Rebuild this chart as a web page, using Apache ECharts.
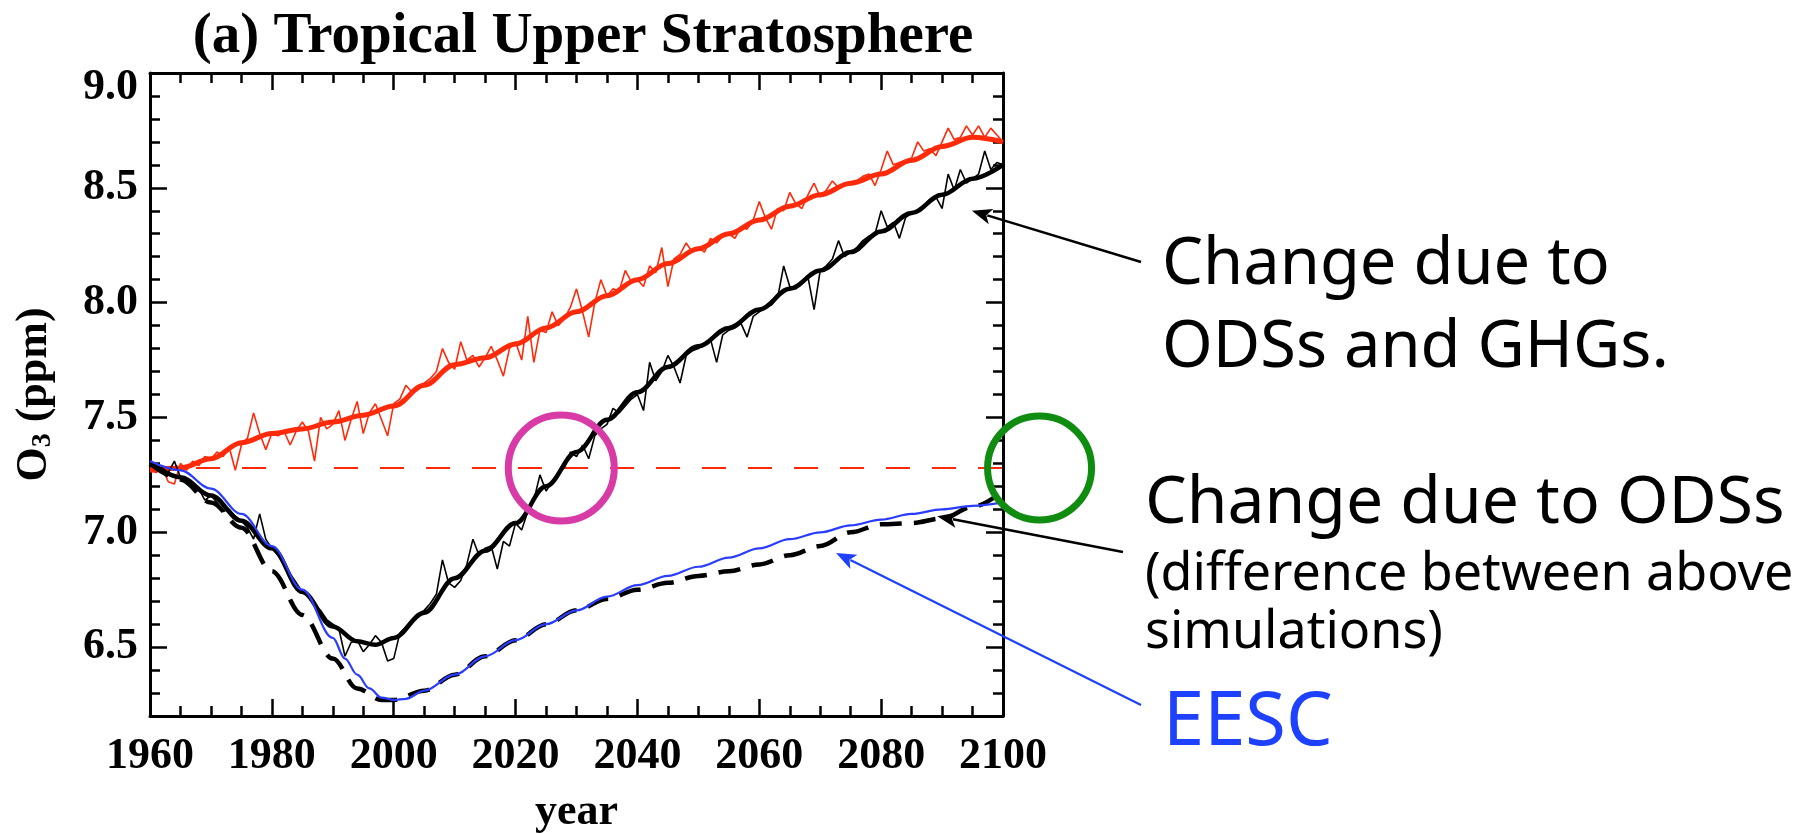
<!DOCTYPE html>
<html>
<head>
<meta charset="utf-8">
<script src="https://cdn.jsdelivr.net/npm/echarts@6/dist/echarts.min.js"></script>
<style>
  html, body { margin: 0; padding: 0; background: #ffffff; }
  #chart { width: 1817px; height: 833px; }
</style>
</head>
<body>
<div id="chart"></div>
<script>
// ---- data -------------------------------------------------------------
// Annual model output, 1960..2100 (one value per year)
const annualYears = [];
for (let y = 1960; y <= 2100; y++) annualYears.push(y);

// Ozone with fixed ODSs (red, thin annual curve)
const redAnnual = [
  7.27, 7.26, 7.28, 7.22, 7.21, 7.30, 7.27, 7.31, 7.29, 7.33,
  7.32, 7.35, 7.33, 7.37, 7.27, 7.38, 7.41, 7.52, 7.43, 7.36,
  7.43, 7.42, 7.44, 7.38, 7.44, 7.48, 7.44, 7.31, 7.50, 7.45,
  7.47, 7.53, 7.40, 7.49, 7.57, 7.43, 7.52, 7.56, 7.49, 7.42,
  7.56, 7.58, 7.64, 7.61, 7.63, 7.65, 7.67, 7.70, 7.80, 7.74,
  7.71, 7.83, 7.75, 7.77, 7.72, 7.76, 7.81, 7.75, 7.68, 7.80,
  7.83, 7.75, 7.94, 7.74, 7.88, 7.87, 7.96, 7.90, 7.93, 7.98,
  8.06, 7.96, 7.85, 8.00, 8.10, 8.03, 8.06, 8.05, 8.14, 8.09,
  8.10, 8.07, 8.16, 8.13, 8.24, 8.07, 8.19, 8.21, 8.26, 8.22,
  8.24, 8.22, 8.28, 8.26, 8.29, 8.30, 8.28, 8.33, 8.32, 8.36,
  8.44, 8.37, 8.32, 8.41, 8.40, 8.48, 8.43, 8.41, 8.47, 8.52,
  8.46, 8.49, 8.53, 8.50, 8.51, 8.52, 8.53, 8.55, 8.56, 8.51,
  8.58, 8.66, 8.60, 8.61, 8.62, 8.63, 8.70, 8.66, 8.67, 8.64,
  8.70, 8.76, 8.71, 8.72, 8.77, 8.73, 8.77, 8.72, 8.76, 8.73,
  8.70
];

// Ozone with changing ODSs and GHGs (black, thin annual curve)
const blackAnnual = [
  7.30, 7.29, 7.28, 7.26, 7.31, 7.24, 7.22, 7.21, 7.19, 7.14,
  7.16, 7.13, 7.09, 7.10, 7.07, 7.05, 7.02, 6.97, 7.08, 6.97,
  6.93, 6.90, 6.86, 6.82, 6.78, 6.74, 6.72, 6.68, 6.66, 6.62,
  6.60, 6.58, 6.46, 6.52, 6.53, 6.48, 6.51, 6.55, 6.52, 6.44,
  6.45, 6.56, 6.59, 6.62, 6.64, 6.66, 6.69, 6.73, 6.88, 6.78,
  6.76, 6.79, 6.86, 6.97, 6.90, 6.93, 6.94, 6.84, 6.96, 6.94,
  7.04, 7.01, 7.09, 7.14, 7.25, 7.18, 7.22, 7.26, 7.28, 7.35,
  7.33, 7.38, 7.32, 7.42, 7.45, 7.47, 7.54, 7.52, 7.55, 7.58,
  7.60, 7.53, 7.74, 7.66, 7.70, 7.77, 7.72, 7.65, 7.77, 7.79,
  7.80, 7.82, 7.84, 7.74, 7.86, 7.88, 7.89, 7.91, 7.85, 7.94,
  7.96, 7.98, 7.99, 8.02, 8.16, 8.07, 8.06, 8.09, 8.11, 7.97,
  8.14, 8.16, 8.19, 8.27, 8.20, 8.22, 8.24, 8.27, 8.29, 8.30,
  8.40, 8.33, 8.35, 8.28, 8.37, 8.39, 8.40, 8.42, 8.45, 8.46,
  8.41, 8.56, 8.49, 8.58, 8.52, 8.54, 8.56, 8.66, 8.58, 8.61,
  8.60
];

// Smoothed curves
const redSmoothYears = [1960, 1965, 1970, 1975, 1980, 1985, 1990, 1995, 2000, 2005,
  2010, 2015, 2020, 2025, 2030, 2035, 2040, 2045, 2050, 2055,
  2060, 2065, 2070, 2075, 2080, 2085, 2090, 2095, 2100];
const redSmooth = [7.27, 7.28, 7.32, 7.39, 7.43, 7.45, 7.48, 7.51, 7.55, 7.64,
  7.73, 7.76, 7.82, 7.89, 7.96, 8.03, 8.10, 8.17, 8.235, 8.30,
  8.36, 8.42, 8.47, 8.52, 8.56, 8.62, 8.68, 8.72, 8.70];

const blackSmoothYears = [1960, 1965, 1970, 1975, 1980, 1985, 1990, 1994, 1997, 2000,
  2005, 2010, 2015, 2020, 2025, 2030, 2035, 2040, 2045, 2050,
  2055, 2060, 2065, 2070, 2075, 2080, 2085, 2090, 2095, 2100];
const blackSmooth = [7.30, 7.24, 7.16, 7.05, 6.93, 6.74, 6.59, 6.525, 6.51, 6.54,
  6.65, 6.80, 6.92, 7.04, 7.20, 7.35, 7.49, 7.61, 7.72, 7.81,
  7.89, 7.97, 8.06, 8.14, 8.22, 8.31, 8.39, 8.47, 8.54, 8.60];

// Change due to ODSs (difference between the two simulations), dashed
const odsYears = [1960, 1965, 1970, 1975, 1980, 1985, 1990, 1994, 1998, 2000,
  2005, 2010, 2015, 2020, 2025, 2030, 2035, 2040, 2045, 2050,
  2055, 2060, 2065, 2070, 2075, 2080, 2085, 2090, 2095, 2100];
const odsChange = [7.30, 7.23, 7.13, 7.02, 6.83, 6.64, 6.45, 6.32, 6.27, 6.27,
  6.31, 6.38, 6.46, 6.53, 6.60, 6.66, 6.71, 6.75, 6.78, 6.81,
  6.83, 6.86, 6.90, 6.94, 7.00, 7.035, 7.04, 7.06, 7.11, 7.18];

// EESC-scaled curve (blue)
const eescYears = [1960, 1965, 1970, 1975, 1980, 1985, 1990, 1992, 1994, 1996,
  1998, 2000, 2002, 2005, 2010, 2015, 2020, 2025, 2030, 2035,
  2040, 2045, 2050, 2055, 2060, 2065, 2070, 2075, 2080, 2085,
  2090, 2095, 2100];
const eescValues = [7.31, 7.27, 7.19, 7.08, 6.94, 6.75, 6.54, 6.45, 6.38, 6.32,
  6.28, 6.27, 6.275, 6.31, 6.38, 6.46, 6.53, 6.60, 6.66, 6.72,
  6.77, 6.81, 6.85, 6.89, 6.93, 6.97, 7.00, 7.03, 7.055, 7.08,
  7.10, 7.115, 7.13];

// 1960 reference level
const refYears = [1960, 2100];
const refLevel = [7.28, 7.28];

// Axis ticks
const yMajorTicks = [6.5, 7.0, 7.5, 8.0, 8.5, 9.0];
const yMinorTicks = [6.3, 6.4, 6.6, 6.7, 6.8, 6.9, 7.1, 7.2, 7.3, 7.4, 7.6, 7.7, 7.8, 7.9,
  8.1, 8.2, 8.3, 8.4, 8.6, 8.7, 8.8, 8.9];

// ---- chart ------------------------------------------------------------
const serif = '"Liberation Serif", "DejaVu Serif", serif';
const hand = '"Noto Sans", "Open Sans", sans-serif';
const RED = '#ff2a0a';
const BLUE = '#2a3cff';

const pairs = (xs, ys) => xs.map((x, i) => [x, ys[i]]);

function xAxisDef(position, withLabels) {
  const ax = {
    type: 'value', position: position, min: 1960, max: 2100, interval: 20,
    axisLine: { show: true, onZero: false, lineStyle: { color: '#000', width: 3 } },
    axisTick: { show: true, inside: true, length: 17, lineStyle: { color: '#000', width: 2.5 } },
    minorTick: { show: true, splitNumber: 4, length: 10, lineStyle: { color: '#000', width: 2.5 } },
    splitLine: { show: false }, minorSplitLine: { show: false },
    axisLabel: { show: false }
  };
  if (withLabels) {
    ax.axisLabel = {
      show: true, margin: 19, color: '#000', fontFamily: serif, fontWeight: 'bold', fontSize: 44,
      formatter: v => String(v)
    };
    ax.name = 'year';
    ax.nameLocation = 'middle';
    ax.nameGap = 75;
    ax.nameTextStyle = { color: '#000', fontFamily: serif, fontWeight: 'bold', fontSize: 44 };
  }
  return ax;
}

function yAxisDef(position, values, len, showLine, withLabels) {
  const ax = {
    type: 'value', position: position, min: 6.2, max: 9.0,
    axisLine: { show: showLine, onZero: false, lineStyle: { color: '#000', width: 3 } },
    axisTick: { show: true, inside: true, length: len, customValues: values, lineStyle: { color: '#000', width: 2.5 } },
    splitLine: { show: false },
    axisLabel: { show: false }
  };
  if (withLabels) {
    ax.axisLabel = {
      show: true, customValues: values, margin: 12, color: '#000',
      fontFamily: serif, fontWeight: 'bold', fontSize: 44,
      formatter: v => (v >= 9 ? '{top|' + v.toFixed(1) + '}' : v.toFixed(1)),
      rich: { top: { fontFamily: serif, fontWeight: 'bold', fontSize: 44, color: '#000', padding: [30, 0, 0, 0] } }
    };
    ax.name = '{o|O}{s|3}{o| (ppm)}';
    ax.nameLocation = 'middle';
    ax.nameRotate = 90;
    ax.nameGap = 93;
    ax.nameTextStyle = {
      rich: {
        o: { fontFamily: serif, fontWeight: 'bold', fontSize: 44, color: '#000', lineHeight: 44 },
        s: { fontFamily: serif, fontWeight: 'bold', fontSize: 28, color: '#000', lineHeight: 28, verticalAlign: 'bottom' }
      }
    };
  }
  return ax;
}

const option = {
  animation: false,
  backgroundColor: '#ffffff',
  title: {
    text: '(a) Tropical Upper Stratosphere',
    left: 578, top: 4, textAlign: 'center',
    textStyle: { fontFamily: serif, fontWeight: 'bold', fontSize: 57, color: '#000' }
  },
  grid: { left: 150, right: 814, top: 73, bottom: 117, containLabel: false, outerBoundsMode: 'none' },
  xAxis: [xAxisDef('bottom', true), xAxisDef('top', false)],
  yAxis: [
    yAxisDef('left', yMajorTicks, 17, true, true),
    yAxisDef('left', yMinorTicks, 10, false, false),
    yAxisDef('right', yMajorTicks, 17, true, false),
    yAxisDef('right', yMinorTicks, 10, false, false)
  ],
  series: [
    { name: 'ref1960', type: 'line', data: pairs(refYears, refLevel), showSymbol: false,
      lineStyle: { color: RED, width: 2.2, type: [24, 22] }, z: 2 },
    { name: 'redAnnual', type: 'line', data: pairs(annualYears, redAnnual), showSymbol: false,
      lineStyle: { color: RED, width: 1.6 }, z: 3 },
    { name: 'redSmooth', type: 'line', data: pairs(redSmoothYears, redSmooth), showSymbol: false,
      smooth: 0.35, smoothMonotone: 'x', lineStyle: { color: RED, width: 5 }, z: 4 },
    { name: 'blackAnnual', type: 'line', data: pairs(annualYears, blackAnnual), showSymbol: false,
      lineStyle: { color: '#000', width: 1.6 }, z: 5 },
    { name: 'blackSmooth', type: 'line', data: pairs(blackSmoothYears, blackSmooth), showSymbol: false,
      smooth: 0.35, smoothMonotone: 'x', lineStyle: { color: '#000', width: 4.5 }, z: 6 },
    { name: 'odsChange', type: 'line', data: pairs(odsYears, odsChange), showSymbol: false,
      smooth: 0.35, smoothMonotone: 'x', lineStyle: { color: '#000', width: 4.5, type: [22, 12] }, z: 7 },
    { name: 'eesc', type: 'line', data: pairs(eescYears, eescValues), showSymbol: false,
      smooth: 0.35, smoothMonotone: 'x', lineStyle: { color: BLUE, width: 2.2 }, z: 8 }
  ]
};

const chart = echarts.init(document.getElementById('chart'));
chart.setOption(option);

// ---- annotations ------------------------------------------------------
const toPx = (x, y) => chart.convertToPixel({ xAxisIndex: 0, yAxisIndex: 0 }, [x, y]);

function arrow(tail, tip, color, width) {
  const dx = tip[0] - tail[0], dy = tip[1] - tail[1];
  const len = Math.hypot(dx, dy);
  const ux = dx / len, uy = dy / len;
  const headLen = 20, headHalf = 8;
  const bx = tip[0] - ux * headLen, by = tip[1] - uy * headLen;
  return [
    { type: 'line', z: 100, shape: { x1: tail[0], y1: tail[1], x2: bx + ux * 4, y2: by + uy * 4 },
      style: { stroke: color, lineWidth: width } },
    { type: 'polygon', z: 100,
      shape: { points: [tip, [bx - uy * headHalf, by + ux * headHalf], [bx + ux * 5, by + uy * 5], [bx + uy * headHalf, by - ux * headHalf]] },
      style: { fill: color } }
  ];
}

function label(text, x, y, size, color) {
  return {
    type: 'text', z: 100, x: x, y: y,
    style: {
      text: text, fill: color, font: size + 'px ' + hand,
      align: 'left', verticalAlign: 'middle', textAlign: 'left', textVerticalAlign: 'middle'
    }
  };
}

const crossing = toPx(2027.5, 7.28);
const beyond = toPx(2106, 7.28);

const graphics = [
  { type: 'circle', z: 90, shape: { cx: crossing[0], cy: crossing[1], r: 53 },
    style: { fill: 'none', stroke: '#d83aa6', lineWidth: 7 } },
  { type: 'circle', z: 90, shape: { cx: beyond[0], cy: beyond[1], r: 52 },
    style: { fill: 'none', stroke: '#108c10', lineWidth: 7 } }
]
  .concat(arrow([1141, 262], toPx(2094.9, 8.40), '#000', 2.5))
  .concat(arrow([1123, 552], toPx(2089.2, 7.07), '#000', 2.5))
  .concat(arrow([1141, 705], toPx(2072.6, 6.91), '#1e40ff', 2.2))
  .concat([
    label('Change due to', 1162, 265, 65, '#000'),
    label('ODSs and GHGs.', 1162, 348, 65, '#000'),
    label('Change due to ODSs', 1145, 504, 66, '#000'),
    label('(difference between above', 1145, 575, 52, '#000'),
    label('simulations)', 1145, 633, 52, '#000'),
    label('EESC', 1163, 724, 74, '#1e40ff')
  ]);

chart.setOption({ graphic: graphics });
</script>
</body>
</html>
